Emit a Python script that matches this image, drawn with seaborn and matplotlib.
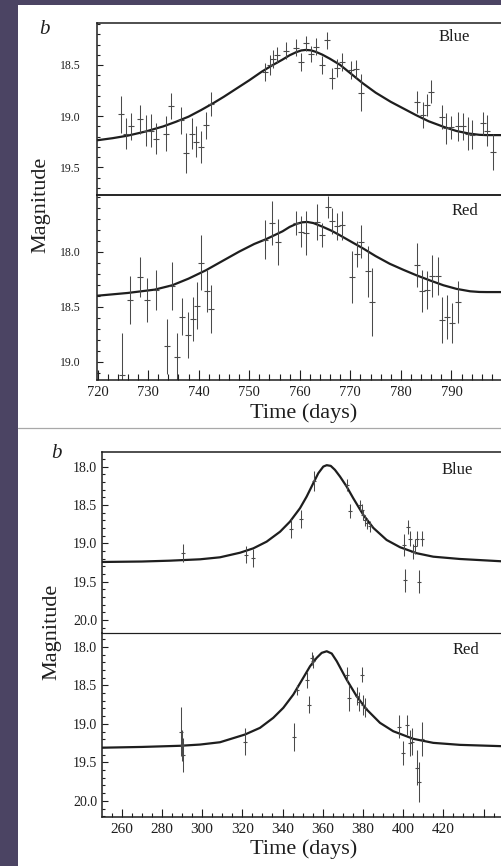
import numpy as np
import pandas as pd
import matplotlib
matplotlib.use("Agg")
import matplotlib.pyplot as plt
from matplotlib.patches import Rectangle
from matplotlib.lines import Line2D
from matplotlib.ticker import FixedLocator, MultipleLocator, FixedFormatter
import seaborn as sns

# ---------------- data ----------------
# Upper figure, Blue band
blue1_t = [724.6, 725.7, 726.6, 728.5, 729.5, 730.5, 731.5, 733.5, 734.5, 736.5, 737.5, 738.6,
           739.5, 740.4, 741.4, 742.4, 753.1, 754.2, 754.8, 755.5, 757.3, 759.2, 760.2, 761.2,
           762.3, 763.3, 764.4, 765.4, 766.4, 767.4, 768.4, 770.2, 771.2, 772.2, 783.1, 784.3,
           785.1, 785.9, 788.1, 789.0, 790.0, 791.2, 792.2, 793.2, 794.1, 796.2, 797.1, 798.2]
blue1_mag = [18.98, 19.17, 19.10, 19.03, 19.14, 19.14, 19.22, 19.17, 18.90, 19.04, 19.36, 19.17,
             19.25, 19.30, 19.09, 18.88, 18.57, 18.50, 18.44, 18.40, 18.36, 18.33, 18.47, 18.29,
             18.39, 18.32, 18.50, 18.26, 18.63, 18.53, 18.47, 18.55, 18.54, 18.77, 18.86, 18.99,
             18.89, 18.76, 19.01, 19.12, 19.11, 19.10, 19.10, 19.17, 19.18, 19.07, 19.14, 19.35]
blue1_err = [0.18, 0.15, 0.13, 0.14, 0.15, 0.16, 0.15, 0.17, 0.13, 0.13, 0.20, 0.15,
             0.15, 0.16, 0.13, 0.12, 0.09, 0.10, 0.09, 0.08, 0.08, 0.08, 0.09, 0.07,
             0.08, 0.08, 0.09, 0.08, 0.10, 0.09, 0.09, 0.09, 0.09, 0.18, 0.11, 0.13,
             0.11, 0.11, 0.12, 0.15, 0.11, 0.14, 0.13, 0.16, 0.14, 0.11, 0.15, 0.18]
blue1_fit_t = [720, 723, 726, 729.5, 733, 735.5, 738, 740.5, 743, 745, 747.5, 750, 752.5, 754.5,
               756.5, 758, 759.3, 760.3, 761.2, 762.2, 763.2, 764.5, 766, 768, 770, 772.5, 775,
               778, 780.5, 783, 785.5, 788.5, 791, 793.5, 795.5, 797, 800]
blue1_fit_mag = [19.235, 19.215, 19.19, 19.15, 19.10, 19.055, 19.005, 18.94, 18.87, 18.81, 18.73,
                 18.65, 18.565, 18.505, 18.45, 18.405, 18.375, 18.358, 18.353, 18.357, 18.372,
                 18.40, 18.44, 18.50, 18.58, 18.68, 18.77, 18.86, 18.925, 18.99, 19.05, 19.105,
                 19.145, 19.17, 19.182, 19.185, 19.185]

# Upper figure, Red band
red1_t = [724.8, 726.5, 728.5, 729.7, 731.6, 733.7, 734.7, 735.8, 736.8, 737.8, 738.8, 739.6,
          740.4, 741.6, 742.4, 753.2, 754.5, 755.6, 759.3, 760.3, 761.3, 763.5, 764.4, 765.5,
          766.4, 767.4, 768.4, 770.3, 771.3, 772.2, 773.5, 774.2, 783.2, 784.2, 785.2, 786.2,
          787.4, 788.2, 789.2, 790.2, 791.2]
red1_mag = [19.12, 18.44, 18.23, 18.44, 18.35, 18.86, 18.31, 18.96, 18.59, 18.76, 18.61, 18.49,
            18.10, 18.36, 18.52, 17.89, 17.74, 17.91, 17.74, 17.82, 17.83, 17.73, 17.85, 17.59,
            17.72, 17.77, 17.76, 18.23, 18.02, 17.91, 18.18, 18.46, 18.12, 18.36, 18.35, 18.22,
            18.22, 18.62, 18.59, 18.65, 18.46]
red1_err = [0.38, 0.22, 0.18, 0.20, 0.18, 0.25, 0.22, 0.22, 0.17, 0.21, 0.20, 0.21,
            0.25, 0.19, 0.22, 0.18, 0.20, 0.21, 0.11, 0.14, 0.20, 0.16, 0.11, 0.10,
            0.12, 0.12, 0.13, 0.24, 0.12, 0.15, 0.23, 0.31, 0.20, 0.19, 0.17, 0.19,
            0.17, 0.21, 0.20, 0.18, 0.19]
red1_fit_t = [720, 726, 731.3, 734.8, 738, 741.4, 744.5, 748, 751, 753.3, 755, 756.6, 758, 759.3,
              760.5, 761.5, 762.7, 764.6, 766.3, 767.9, 770, 772.5, 775, 777.8, 780.5, 783.1,
              785.8, 788.4, 791, 793.7, 795.5, 797, 800]
red1_fit_mag = [18.40, 18.375, 18.345, 18.305, 18.245, 18.17, 18.09, 18.0, 17.93, 17.887, 17.85,
                17.815, 17.775, 17.748, 17.733, 17.73, 17.74, 17.775, 17.81, 17.85, 17.905, 17.97,
                18.04, 18.11, 18.165, 18.215, 18.262, 18.305, 18.338, 18.36, 18.366, 18.367,
                18.367]

# Lower figure, Blue band
blue2_t = [290.6, 321.7, 325.5, 344.1, 349.1, 355.7, 371.9, 373.6, 378.6, 379.4, 380.2, 381.0,
           381.9, 383.5, 400.4, 400.9, 402.3, 403.4, 404.8, 405.9, 407.1, 408.1, 409.3]
blue2_mag = [19.13, 19.15, 19.19, 18.81, 18.68, 18.19, 18.24, 18.58, 18.50, 18.56, 18.63, 18.70,
             18.74, 18.78, 19.02, 19.48, 18.79, 18.94, 19.11, 19.04, 18.94, 19.50, 18.94]
blue2_err = [0.12, 0.11, 0.12, 0.12, 0.12, 0.13, 0.08, 0.09, 0.07, 0.07, 0.07, 0.07,
             0.07, 0.07, 0.14, 0.15, 0.09, 0.10, 0.10, 0.10, 0.10, 0.15, 0.10]
blue2_fit_t = [250, 270, 284, 299, 308.9, 318.9, 325.5, 332.1, 338.8, 343.7, 348.7, 352.0, 355.3,
               357.8, 360.3, 362.0, 364.0, 366.1, 368.6, 371.9, 375.2, 380.2, 385.2, 391.8,
               398.5, 406.8, 415.0, 428.3, 449]
blue2_fit_mag = [19.244, 19.238, 19.227, 19.209, 19.183, 19.123, 19.066, 18.979, 18.849, 18.718,
                 18.543, 18.392, 18.217, 18.087, 18.00, 17.982, 17.991, 18.043, 18.13, 18.26,
                 18.413, 18.63, 18.80, 18.957, 19.052, 19.13, 19.175, 19.205, 19.235]

# Lower figure, Red band
red2_t = [289.6, 290.0, 290.3, 321.3, 345.9, 347.1, 352.0, 353.2, 354.6, 355.0, 371.9, 373.2,
          376.9, 378.2, 379.6, 380.2, 381.0, 398.1, 400.1, 401.9, 403.4, 404.6, 407.1, 408.1, 409.3]
red2_mag = [19.10, 19.28, 19.40, 19.23, 19.17, 18.56, 18.43, 18.75, 18.15, 18.19, 18.36, 18.66,
            18.64, 18.71, 18.36, 18.76, 18.79, 19.04, 19.38, 19.01, 19.25, 19.23, 19.57, 19.75, 19.20]
red2_err = [0.32, 0.20, 0.22, 0.17, 0.18, 0.06, 0.10, 0.11, 0.08, 0.09, 0.10, 0.17,
            0.12, 0.12, 0.10, 0.13, 0.12, 0.15, 0.16, 0.13, 0.17, 0.18, 0.23, 0.26, 0.22]
red2_fit_t = [250, 270, 289, 299, 308.9, 321.3, 328.8, 335.4, 340.4, 345.4, 350.3, 353.7, 357.0,
              359.5, 362.0, 364.5, 367.0, 371.9, 376.9, 381.9, 388.5, 395.1, 405.1, 415.0,
              428.3, 449]
red2_fit_mag = [19.31, 19.30, 19.285, 19.269, 19.239, 19.139, 19.052, 18.922, 18.792, 18.619,
                18.403, 18.252, 18.143, 18.078, 18.057, 18.087, 18.187, 18.425, 18.642, 18.814,
                18.987, 19.096, 19.195, 19.247, 19.273, 19.29]

# tick labels
top_xticks = [720, 730, 740, 750, 760, 770, 780, 790]
top_blue_yticks = [18.5, 19.0, 19.5]
top_red_yticks = [18.0, 18.5, 19.0]
bot_xticks = [260, 280, 300, 320, 340, 360, 380, 400, 420]
bot_yticks = [18.0, 18.5, 19.0, 19.5, 20.0]

# ---------------- figure ----------------
sns.set_theme(style="white")
plt.rcParams['font.family'] = ['Liberation Serif', 'DejaVu Serif']

W, H = 502, 866
fig = plt.figure(figsize=(W / 100, H / 100), dpi=100)
fig.patch.set_facecolor('#4b4463')


def rect(l, t, r, b):
    return [l / W, 1 - b / H, (r - l) / W, (b - t) / H]


# white paper
fig.patches.append(Rectangle((18 / W, 0), (W - 18) / W, (H - 5) / H, transform=fig.transFigure,
                             facecolor='white', edgecolor='none', zorder=-10))
fig.lines.append(Line2D([18 / W, 1], [1 - 428 / H, 1 - 428 / H], transform=fig.transFigure,
                        color='#a8a8a8', lw=0.9, zorder=-5))

INK = '#1e1e1e'
BAR = '#4a4a4a'


def draw_panel(ax, t, m, e, ft, fm, xlim, ylim, label, lbl_xy, yticks, ysize, ypad, bar_ms):
    df = pd.DataFrame({'t': ft, 'm': fm})
    sns.lineplot(data=df, x='t', y='m', ax=ax, color=INK, lw=1.6, sort=False, estimator=None)
    ax.errorbar(t, m, yerr=e, fmt='_', ms=bar_ms, mew=0.8, color=BAR, ecolor=BAR,
                elinewidth=0.75, capsize=0)
    ax.set_xlim(*xlim)
    ax.set_ylim(*ylim)
    ax.set_xlabel('')
    ax.set_ylabel('')
    ax.set_facecolor('none')
    ax.spines['right'].set_visible(False)
    for s in ['left', 'top', 'bottom']:
        ax.spines[s].set_color(INK)
        ax.spines[s].set_linewidth(1.1)
    ax.yaxis.set_major_locator(FixedLocator(yticks))
    ax.yaxis.set_major_formatter(FixedFormatter([f'{v:.1f}' for v in yticks]))
    ax.yaxis.set_minor_locator(MultipleLocator(0.1))
    ax.tick_params(axis='y', which='both', direction='in', left=True, right=False,
                   labelsize=ysize, pad=ypad, colors=INK, width=0.8)
    ax.tick_params(axis='y', which='major', length=4)
    ax.tick_params(axis='y', which='minor', length=2.5)
    fig.text(lbl_xy[0] / W, 1 - lbl_xy[1] / H, label, ha='center', va='center',
             fontsize=12, color=INK)


# ---- upper figure ----
ax1 = fig.add_axes(rect(97, 23, 502, 195))
ax2 = fig.add_axes(rect(97, 195, 502, 380))
draw_panel(ax1, blue1_t, blue1_mag, blue1_err, blue1_fit_t, blue1_fit_mag, (719.9, 800),
           (19.77, 18.09), 'Blue', (454, 37), top_blue_yticks, 8.5, 12, 4)
draw_panel(ax2, red1_t, red1_mag, red1_err, red1_fit_t, red1_fit_mag, (719.9, 800),
           (19.166, 17.485), 'Red', (465, 211), top_red_yticks, 8.5, 12, 4)
ax1.tick_params(axis='x', which='both', bottom=False, top=False, labelbottom=False)
ax2.set_xticks(top_xticks + [800])
ax2.set_xticklabels([str(v) for v in top_xticks] + [''])
ax2.xaxis.set_minor_locator(MultipleLocator(2))
ax2.tick_params(axis='x', which='both', direction='in', bottom=True, top=False,
                labelsize=10.5, pad=4, colors=INK, width=0.8)
ax2.tick_params(axis='x', which='major', length=7)
ax2.tick_params(axis='x', which='minor', length=4)

fig.text(304 / W, 1 - 413 / H, 'Time (days)', ha='center', va='center', fontsize=16, color=INK)
fig.text(41 / W, 1 - 205 / H, 'Magnitude', ha='center', va='center', rotation=90,
         fontsize=16, color=INK)
fig.text(44 / W, 1 - 30 / H, 'b', ha='center', va='center', fontsize=15, style='italic', color=INK)

# ---- lower figure ----
ax3 = fig.add_axes(rect(102, 452, 502, 633))
ax4 = fig.add_axes(rect(102, 633, 502, 817))
draw_panel(ax3, blue2_t, blue2_mag, blue2_err, blue2_fit_t, blue2_fit_mag, (250.2, 449.2),
           (20.17, 17.81), 'Blue', (457, 470), bot_yticks, 10, 3.5, 2.5)
draw_panel(ax4, red2_t, red2_mag, red2_err, red2_fit_t, red2_fit_mag, (250.2, 449.2),
           (20.21, 17.82), 'Red', (466, 650), bot_yticks, 10, 3.5, 2.5)
ax3.tick_params(axis='x', which='both', bottom=False, top=False, labelbottom=False)
ax3.spines['bottom'].set_linewidth(0.8)
ax4.spines['top'].set_linewidth(0.8)
ax4.set_xticks(bot_xticks + [440])
ax4.set_xticklabels([str(v) for v in bot_xticks] + [''])
ax4.xaxis.set_minor_locator(MultipleLocator(5))
ax4.tick_params(axis='x', which='both', direction='in', bottom=True, top=False,
                labelsize=11, pad=4, colors=INK, width=0.8)
ax4.tick_params(axis='x', which='major', length=6)
ax4.tick_params(axis='x', which='minor', length=3)

fig.text(304 / W, 1 - 849 / H, 'Time (days)', ha='center', va='center', fontsize=16, color=INK)
fig.text(52 / W, 1 - 632 / H, 'Magnitude', ha='center', va='center', rotation=90,
         fontsize=16, color=INK)
fig.text(56 / W, 1 - 453 / H, 'b', ha='center', va='center', fontsize=15, style='italic', color=INK)

fig.savefig('out.png', dpi=100, facecolor=fig.get_facecolor())
